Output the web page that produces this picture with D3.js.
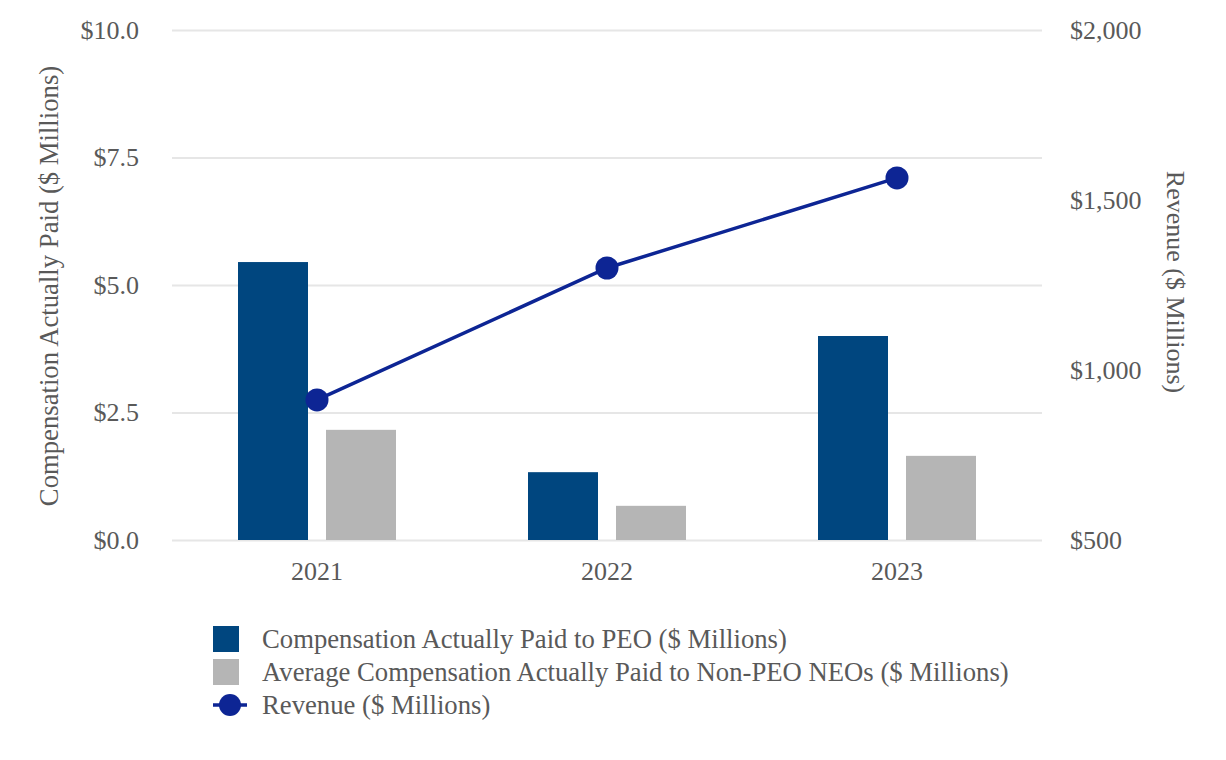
<!DOCTYPE html>
<html>
<head>
<meta charset="utf-8">
<script src="https://cdn.jsdelivr.net/npm/d3@7"></script>
<style>
  body { margin: 0; background: #fff; }
  text { font-family: "Liberation Serif", "Times New Roman", serif; fill: #595959; }
</style>
</head>
<body>
<svg id="chart" width="1226" height="760"></svg>
<script>
// values
var years = ['2021', '2022', '2023'];
var peoPay = [5.45, 1.33, 4.0];
var neoPay = [2.16, 0.67, 1.65];
var revenue = [912, 1300, 1565];
var leftTicks = [0, 2.5, 5, 7.5, 10];
var rightTicks = [500, 1000, 1500, 2000];
var legendNames = [
    'Compensation Actually Paid to PEO ($ Millions)',
    'Average Compensation Actually Paid to Non-PEO NEOs ($ Millions)',
    'Revenue ($ Millions)'
];

var colors = { peo: '#00467f', neo: '#b5b5b5', rev: '#0d2594', grid: '#e6e6e6' };
var m = { left: 172, right: 1042, top: 30, bottom: 540 };
var fs = '26px';
var fsBig = '26.7px';

var svg = d3.select('#chart');

var x = d3.scaleBand().domain(years).range([m.left, m.right]);
var yL = d3.scaleLinear().domain([0, 10]).range([m.bottom, m.top]);
var yR = d3.scaleLinear().domain([500, 2000]).range([m.bottom, m.top]);

// gridlines + left labels
var leftAxis = d3.axisLeft(yL).tickValues(leftTicks)
    .tickSize(-(m.right - m.left)).tickPadding(33)
    .tickFormat(function (d) { return '$' + d3.format('.1f')(d); });
var gL = svg.append('g').attr('transform', 'translate(' + m.left + ',0)').call(leftAxis);
gL.select('.domain').remove();
gL.selectAll('line').attr('stroke', colors.grid).attr('stroke-width', 2);
gL.selectAll('text').style('font-size', fs).attr('fill', '#595959');

// right labels (no gridlines)
var rightAxis = d3.axisRight(yR).tickValues(rightTicks).tickSize(0).tickPadding(28)
    .tickFormat(function (d) { return '$' + d3.format(',')(d); });
var gR = svg.append('g').attr('transform', 'translate(' + m.right + ',0)').call(rightAxis);
gR.select('.domain').remove();
gR.selectAll('text').style('font-size', fs).attr('fill', '#595959');

// x labels
var xAxis = d3.axisBottom(x).tickSize(0).tickPadding(22);
var gX = svg.append('g').attr('transform', 'translate(0,' + m.bottom + ')').call(xAxis);
gX.select('.domain').remove();
gX.selectAll('text').style('font-size', fs).attr('fill', '#595959');

// bars
var barW = 70, gap = 18;
svg.append('g').selectAll('rect').data(years).join('rect')
    .attr('x', function (d) { return x(d) + x.bandwidth() / 2 - gap / 2 - barW; })
    .attr('y', function (d, i) { return yL(peoPay[i]); })
    .attr('width', barW)
    .attr('height', function (d, i) { return yL(0) - yL(peoPay[i]); })
    .attr('fill', colors.peo);
svg.append('g').selectAll('rect').data(years).join('rect')
    .attr('x', function (d) { return x(d) + x.bandwidth() / 2 + gap / 2; })
    .attr('y', function (d, i) { return yL(neoPay[i]); })
    .attr('width', barW)
    .attr('height', function (d, i) { return yL(0) - yL(neoPay[i]); })
    .attr('fill', colors.neo);

// revenue line
var cx = function (d, i) { return x(years[i]) + x.bandwidth() / 2; };
var line = d3.line().x(cx).y(function (d) { return yR(d); });
svg.append('path').datum(revenue).attr('d', line)
    .attr('fill', 'none').attr('stroke', colors.rev).attr('stroke-width', 3.5);
svg.append('g').selectAll('circle').data(revenue).join('circle')
    .attr('cx', cx).attr('cy', function (d) { return yR(d); })
    .attr('r', 11.5).attr('fill', colors.rev);

// axis titles
svg.append('text')
    .attr('transform', 'translate(58,' + ((m.top + m.bottom) / 2 + 1) + ') rotate(-90)')
    .attr('text-anchor', 'middle').style('font-size', fsBig)
    .text('Compensation Actually Paid ($ Millions)');
svg.append('text')
    .attr('transform', 'translate(1167,' + 282 + ') rotate(90)')
    .attr('text-anchor', 'middle').style('font-size', fs)
    .text('Revenue ($ Millions)');

// legend
var lg = svg.append('g').attr('transform', 'translate(213,639)');
var rowH = 33;
lg.append('rect').attr('x', 0).attr('y', -13).attr('width', 26).attr('height', 26).attr('fill', colors.peo);
lg.append('rect').attr('x', 0).attr('y', rowH - 13).attr('width', 26).attr('height', 26).attr('fill', colors.neo);
lg.append('line').attr('x1', 0).attr('x2', 34).attr('y1', rowH * 2).attr('y2', rowH * 2)
    .attr('stroke', colors.rev).attr('stroke-width', 3.5);
lg.append('circle').attr('cx', 17).attr('cy', rowH * 2).attr('r', 11).attr('fill', colors.rev);
lg.selectAll('text.lbl').data(legendNames).join('text').attr('class', 'lbl')
    .attr('x', 49).attr('y', function (d, i) { return i * rowH; })
    .attr('dy', '0.35em').style('font-size', fsBig)
    .text(function (d) { return d; });
</script>
</body>
</html>
